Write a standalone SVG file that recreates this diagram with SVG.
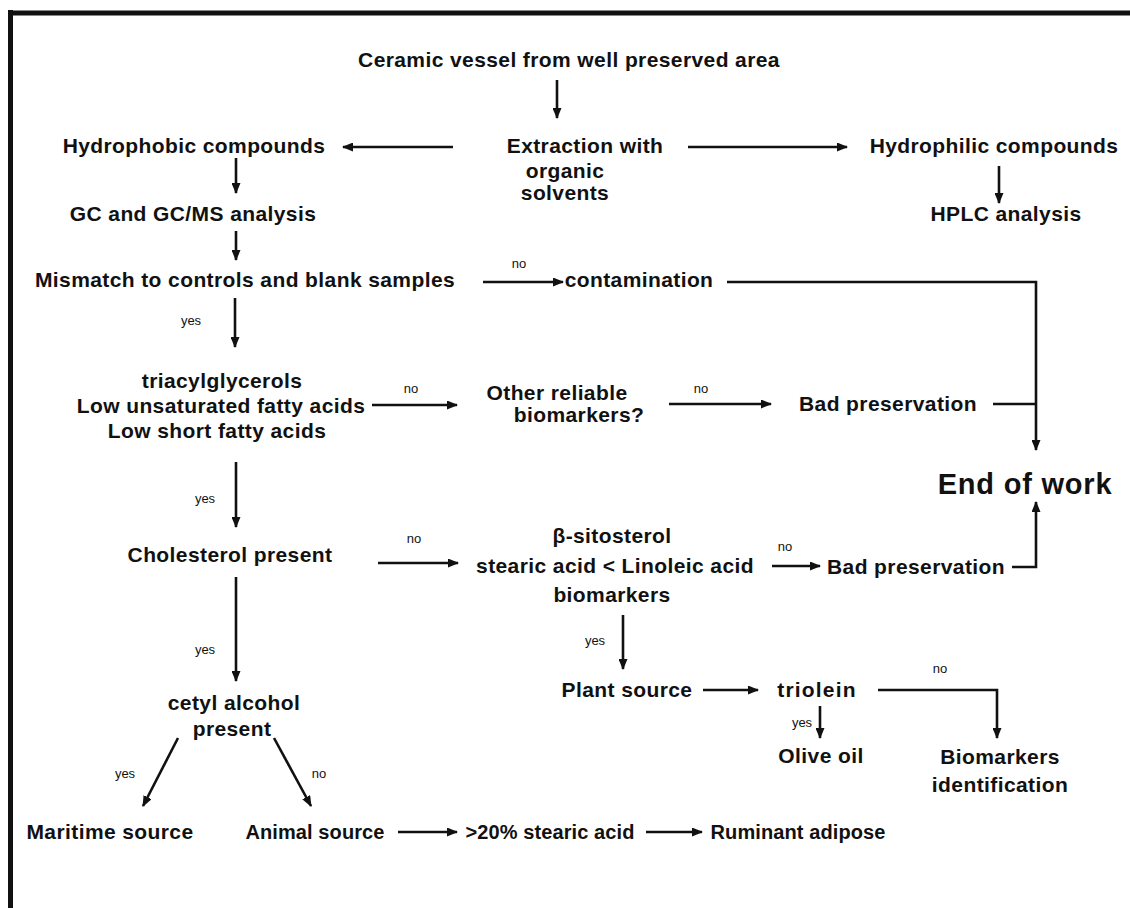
<svg xmlns="http://www.w3.org/2000/svg" width="1130" height="908" viewBox="0 0 1130 908">
<defs>
<style>
.t{font-family:"Liberation Sans",Arial,Helvetica,sans-serif;font-weight:bold;font-size:21px;letter-spacing:0.4px;fill:#111;text-anchor:middle}
.s{font-size:20px;letter-spacing:0.1px}
.big{font-family:"Liberation Sans",Arial,Helvetica,sans-serif;font-weight:bold;font-size:29px;letter-spacing:0.8px;fill:#111;text-anchor:middle}
.l{font-family:"Liberation Sans",Arial,Helvetica,sans-serif;font-size:13px;fill:#111;text-anchor:middle}
.c{stroke:#111;stroke-width:2.6;fill:none}
.a{marker-end:url(#ah)}
</style>
<marker id="ah" markerUnits="userSpaceOnUse" markerWidth="11" markerHeight="9" refX="10" refY="4.5" orient="auto">
<path d="M0,0 L11,4.5 L0,9 z" fill="#111"/>
</marker>
</defs>
<rect width="1130" height="908" fill="#fff"/>
<g id="frame">
<line x1="8" y1="13" x2="1130" y2="13" stroke="#111" stroke-width="5"/>
<line x1="10.5" y1="10" x2="10.5" y2="908" stroke="#111" stroke-width="5"/>
</g>
<g id="connectors">
<line class="c a" x1="557" y1="80" x2="557" y2="118"/>
<line class="c a" x1="453" y1="147" x2="343" y2="147"/>
<line class="c a" x1="688" y1="147" x2="847" y2="147"/>
<line class="c a" x1="236" y1="158" x2="236" y2="193"/>
<line class="c a" x1="999" y1="166" x2="999" y2="203"/>
<line class="c a" x1="236" y1="231" x2="236" y2="260"/>
<line class="c a" x1="483" y1="282" x2="563" y2="282"/>
<path class="c a" d="M727,282 H1036 V450"/>
<line class="c a" x1="235" y1="298" x2="235" y2="347"/>
<line class="c a" x1="372" y1="405" x2="457" y2="405"/>
<line class="c a" x1="669" y1="404" x2="771" y2="404"/>
<line class="c" x1="993" y1="404" x2="1036" y2="404"/>
<line class="c a" x1="236" y1="462" x2="236" y2="527"/>
<line class="c a" x1="378" y1="563" x2="458" y2="563"/>
<line class="c a" x1="772" y1="566" x2="820" y2="566"/>
<path class="c a" d="M1012,567 H1036 V502"/>
<line class="c a" x1="236" y1="577" x2="236" y2="681"/>
<line class="c a" x1="623" y1="615" x2="623" y2="669"/>
<line class="c a" x1="703" y1="690" x2="758" y2="690"/>
<line class="c a" x1="820" y1="706" x2="820" y2="738"/>
<path class="c a" d="M878,690 H997 V738"/>
<line class="c a" x1="178" y1="738" x2="143" y2="806"/>
<line class="c a" x1="274" y1="738" x2="311" y2="806"/>
<line class="c a" x1="398" y1="832" x2="457" y2="832"/>
<line class="c a" x1="646" y1="832" x2="702" y2="832"/>
</g>
<g id="labels">
<text class="l" x="519" y="268">no</text>
<text class="l" x="191" y="325">yes</text>
<text class="l" x="411" y="393">no</text>
<text class="l" x="701" y="393">no</text>
<text class="l" x="205" y="503">yes</text>
<text class="l" x="414" y="543">no</text>
<text class="l" x="785" y="551">no</text>
<text class="l" x="205" y="654">yes</text>
<text class="l" x="595" y="645">yes</text>
<text class="l" x="125" y="778">yes</text>
<text class="l" x="319" y="778">no</text>
<text class="l" x="940" y="673">no</text>
<text class="l" x="802" y="727">yes</text>
</g>
<g id="n-vessel"><text class="t" x="569" y="67">Ceramic vessel from well preserved area</text></g>
<g id="n-extraction"><text class="t" x="585" y="153">Extraction with</text><text class="t" x="565" y="178">organic</text><text class="t" x="565" y="200">solvents</text></g>
<g id="n-hydrophobic"><text class="t" x="194" y="153">Hydrophobic compounds</text></g>
<g id="n-hydrophilic"><text class="t" x="994" y="153">Hydrophilic compounds</text></g>
<g id="n-gc"><text class="t" x="193" y="221">GC and GC/MS analysis</text></g>
<g id="n-hplc"><text class="t" x="1006" y="221">HPLC analysis</text></g>
<g id="n-mismatch"><text class="t" x="245" y="287">Mismatch to controls and blank samples</text></g>
<g id="n-contamination"><text class="t" x="639" y="287">contamination</text></g>
<g id="n-tag"><text class="t" x="222" y="388">triacylglycerols</text><text class="t" x="221" y="413">Low unsaturated fatty acids</text><text class="t" x="217" y="438">Low short fatty acids</text></g>
<g id="n-other"><text class="t" x="557" y="400">Other reliable</text><text class="t" x="579" y="422">biomarkers?</text></g>
<g id="n-bad1"><text class="t" x="888" y="411">Bad preservation</text></g>
<g id="n-end"><text class="big" x="1025" y="494">End of work</text></g>
<g id="n-cholesterol"><text class="t" x="230" y="562">Cholesterol present</text></g>
<g id="n-sitosterol"><text class="t" x="612" y="543">β-sitosterol</text><text class="t" x="615" y="573">stearic acid &lt; Linoleic acid</text><text class="t" x="612" y="602">biomarkers</text></g>
<g id="n-bad2"><text class="t" x="916" y="574">Bad preservation</text></g>
<g id="n-plant"><text class="t" x="627" y="697">Plant source</text></g>
<g id="n-triolein"><text class="t" x="817" y="697" style="letter-spacing:1.2px">triolein</text></g>
<g id="n-olive"><text class="t" x="821" y="763">Olive oil</text></g>
<g id="n-biomarkers"><text class="t" x="1000" y="764">Biomarkers</text><text class="t" x="1000" y="792">identification</text></g>
<g id="n-cetyl"><text class="t" x="234" y="710">cetyl alcohol</text><text class="t" x="232" y="736">present</text></g>
<g id="n-maritime"><text class="t" x="110" y="839">Maritime source</text></g>
<g id="n-animal"><text class="t s" x="315" y="839">Animal source</text></g>
<g id="n-stearic"><text class="t s" x="550" y="839">&gt;20% stearic acid</text></g>
<g id="n-ruminant"><text class="t s" x="798" y="839">Ruminant adipose</text></g>
</svg>
